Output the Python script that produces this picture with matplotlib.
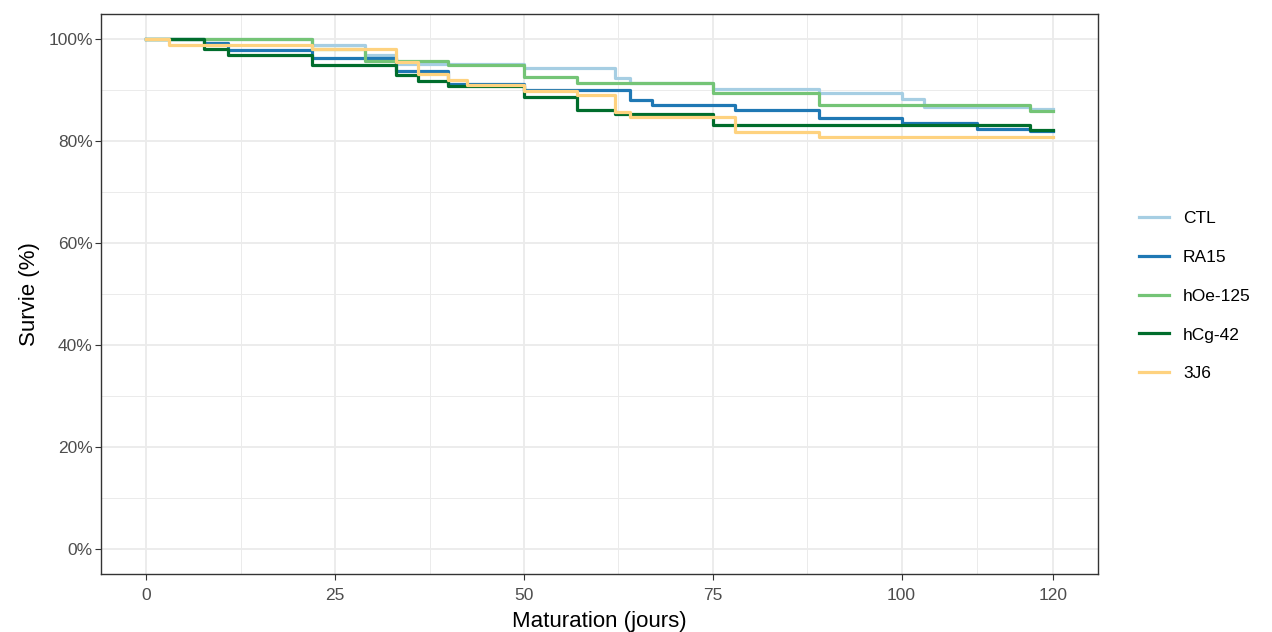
import matplotlib.pyplot as plt
from matplotlib.ticker import PercentFormatter, MultipleLocator, FixedLocator

plt.rcParams['font.family'] = ['Liberation Sans', 'DejaVu Sans']

# temps (jours) et survie (%) par groupe
groupes = ['CTL', 'RA15', 'hOe-125', 'hCg-42', '3J6']
couleurs = ['#a6cee3', '#1f78b4', '#74c476', '#006d2c', '#fed27f']

t_ctl = [0, 22, 29, 33, 50, 62, 64, 75, 89, 100, 103, 117, 120]
s_ctl = [100, 99.0, 97.0, 95.2, 94.3, 92.5, 91.4, 90.3, 89.4, 88.4, 86.8, 86.4, 86.4]

t_ra15 = [0, 7.7, 10.8, 22, 33, 40, 50, 64, 67, 78, 89, 100, 110, 117, 120]
s_ra15 = [100, 99.3, 98.0, 96.3, 93.8, 91.2, 90.0, 88.2, 87.2, 86.2, 84.5, 83.6, 82.5, 82.1, 82.1]

t_hoe = [0, 22, 29, 40, 50, 57, 75, 89, 117, 120]
s_hoe = [100, 98.1, 95.8, 94.9, 92.6, 91.4, 89.4, 87.2, 86.0, 86.0]

t_hcg = [0, 7.7, 10.8, 22, 33, 36, 40, 50, 57, 62, 75, 117, 120]
s_hcg = [100, 98.2, 97.0, 94.9, 93.0, 91.9, 90.8, 88.6, 86.2, 85.3, 83.2, 82.2, 82.2]

t_3j6 = [0, 3, 22, 33, 36, 40, 42.5, 50, 57, 62, 64, 78, 89, 120]
s_3j6 = [100, 99.0, 98.1, 95.6, 93.3, 92.0, 91.0, 89.9, 89.0, 85.8, 84.8, 81.9, 80.8, 80.8]

temps = [t_ctl, t_ra15, t_hoe, t_hcg, t_3j6]
survie = [s_ctl, s_ra15, s_hoe, s_hcg, s_3j6]

x_ticks = [0, 25, 50, 75, 100, 120]
x_minor = [12.5, 37.5, 62.5, 87.5, 110]

fig = plt.figure(figsize=(12.72, 6.32), dpi=100)
ax = fig.add_axes([101/1272, 1-574/632, 997/1272, 560/632])

for nom, c, t, s in zip(groupes, couleurs, temps, survie):
    ax.step(t, [v/100 for v in s], where='post', color=c, lw=2.3, label=nom)

ax.set_xlim(-6, 126)
ax.set_ylim(-0.05, 1.05)
ax.xaxis.set_major_locator(FixedLocator(x_ticks))
ax.xaxis.set_minor_locator(FixedLocator(x_minor))
ax.yaxis.set_major_locator(MultipleLocator(0.2))
ax.yaxis.set_minor_locator(MultipleLocator(0.1))
ax.yaxis.set_major_formatter(PercentFormatter(1.0, decimals=0))

ax.grid(which='major', color='#ebebeb', lw=1.3)
ax.grid(which='minor', color='#ebebeb', lw=0.7)
ax.set_axisbelow(True)
for sp in ax.spines.values():
    sp.set_color('#333333')
    sp.set_linewidth(1.0)
ax.tick_params(which='major', length=4, color='#333333', labelsize=12.5, labelcolor='#4d4d4d', pad=2)
ax.tick_params(axis='x', which='major', pad=6)
ax.tick_params(which='minor', length=0)

ax.set_xlabel('Maturation (jours)', fontsize=16, labelpad=6)
ax.set_ylabel('Survie (%)', fontsize=16, labelpad=6)

fig.legend(loc='center left', bbox_to_anchor=(1123/1272, 1-296/632), frameon=False,
           fontsize=12.5, handlelength=1.75, handletextpad=0.8, labelspacing=1.37)

fig.savefig('out.png', dpi=100)
